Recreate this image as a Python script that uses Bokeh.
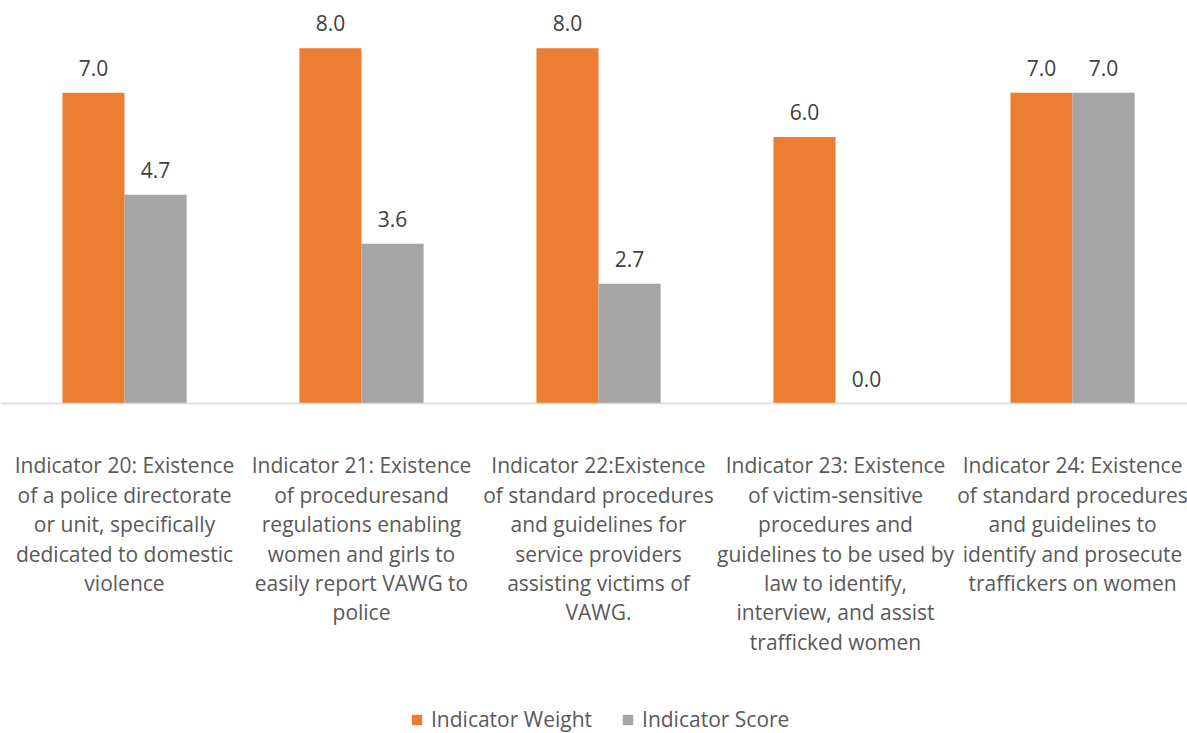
from bokeh.plotting import figure
from bokeh.models import ColumnDataSource, Range1d, Span, Legend, LegendItem
from bokeh.core.properties import value
from bokeh.transform import dodge
from bokeh.embed import file_html
from bokeh.resources import INLINE

categories = [
    "Indicator 20: Existence\nof a police directorate\nor unit, specifically\ndedicated to domestic\nviolence",
    "Indicator 21: Existence\nof proceduresand\nregulations enabling\nwomen and girls to\neasily report VAWG to\npolice",
    "Indicator 22:Existence\nof standard procedures\nand guidelines for\nservice providers\nassisting victims of\nVAWG.",
    "Indicator 23: Existence\nof victim-sensitive\nprocedures and\nguidelines to be used by\nlaw to identify,\ninterview, and assist\ntrafficked women",
    "Indicator 24: Existence\nof standard procedures\nand guidelines to\nidentify and prosecute\ntraffickers on women",
]
weight = [7.0, 8.0, 8.0, 6.0, 7.0]
score = [4.7, 3.6, 2.7, 0.0, 7.0]
series = ["Indicator Weight", "Indicator Score"]

ORANGE = "#ED7D31"
GRAY = "#A5A5A5"
FONT = "Open Sans"
FS = "21px"

W, H = 1187, 733
xs = [i + 0.5 for i in range(len(categories))]
src = ColumnDataSource(dict(
    x=xs, cat=categories, weight=weight, score=score,
    wlab=[f"{v:.1f}" for v in weight], slab=[f"{v:.1f}" for v in score],
    zero=[0.0] * len(xs), laby=[-1.08] * len(xs),
))

p = figure(width=W, height=H, output_backend="svg", toolbar_location=None,
           x_range=Range1d(-0.0232, 4.985), y_range=Range1d(-7.432, 9.077),
           min_border=0, outline_line_color=None)
p.xaxis.visible = False
p.yaxis.visible = False
p.grid.visible = False
p.background_fill_color = "white"

bw = 0.262
r1 = p.vbar(x=dodge("x", -bw / 2), top="weight", bottom="zero", width=bw, source=src,
            fill_color=ORANGE, line_color=None)
r2 = p.vbar(x=dodge("x", bw / 2), top="score", bottom="zero", width=bw, source=src,
            fill_color=GRAY, line_color=None)

p.add_layout(Span(location=0, dimension="width", line_color="#D9D9D9", line_width=1.5))

p.text(x=dodge("x", -bw / 2), y="weight", text="wlab", source=src, text_align="center",
       text_baseline="bottom", y_offset=-17, text_font=value(FONT), text_font_size=FS,
       text_color="#404040")
p.text(x=dodge("x", bw / 2), y="score", text="slab", source=src, text_align="center",
       text_baseline="bottom", y_offset=-17, text_font=value(FONT), text_font_size=FS,
       text_color="#404040")

p.text(x="x", y="laby", text="cat", source=src, text_align="center", text_baseline="top",
       text_font=value(FONT), text_font_size=FS, text_color="#595959",
       text_line_height=1.05)

legend = Legend(items=[LegendItem(label=series[0], renderers=[r1]),
                       LegendItem(label=series[1], renderers=[r2])],
                orientation="horizontal", location=(410, 0),
                glyph_width=13, glyph_height=13, label_standoff=8, spacing=29,
                padding=0, margin=0, border_line_color=None, background_fill_alpha=0,
                label_text_font=FONT, label_text_font_size=FS,
                label_text_color="#595959")
p.add_layout(legend)

open("out.html", "w").write(file_html(p, INLINE))
